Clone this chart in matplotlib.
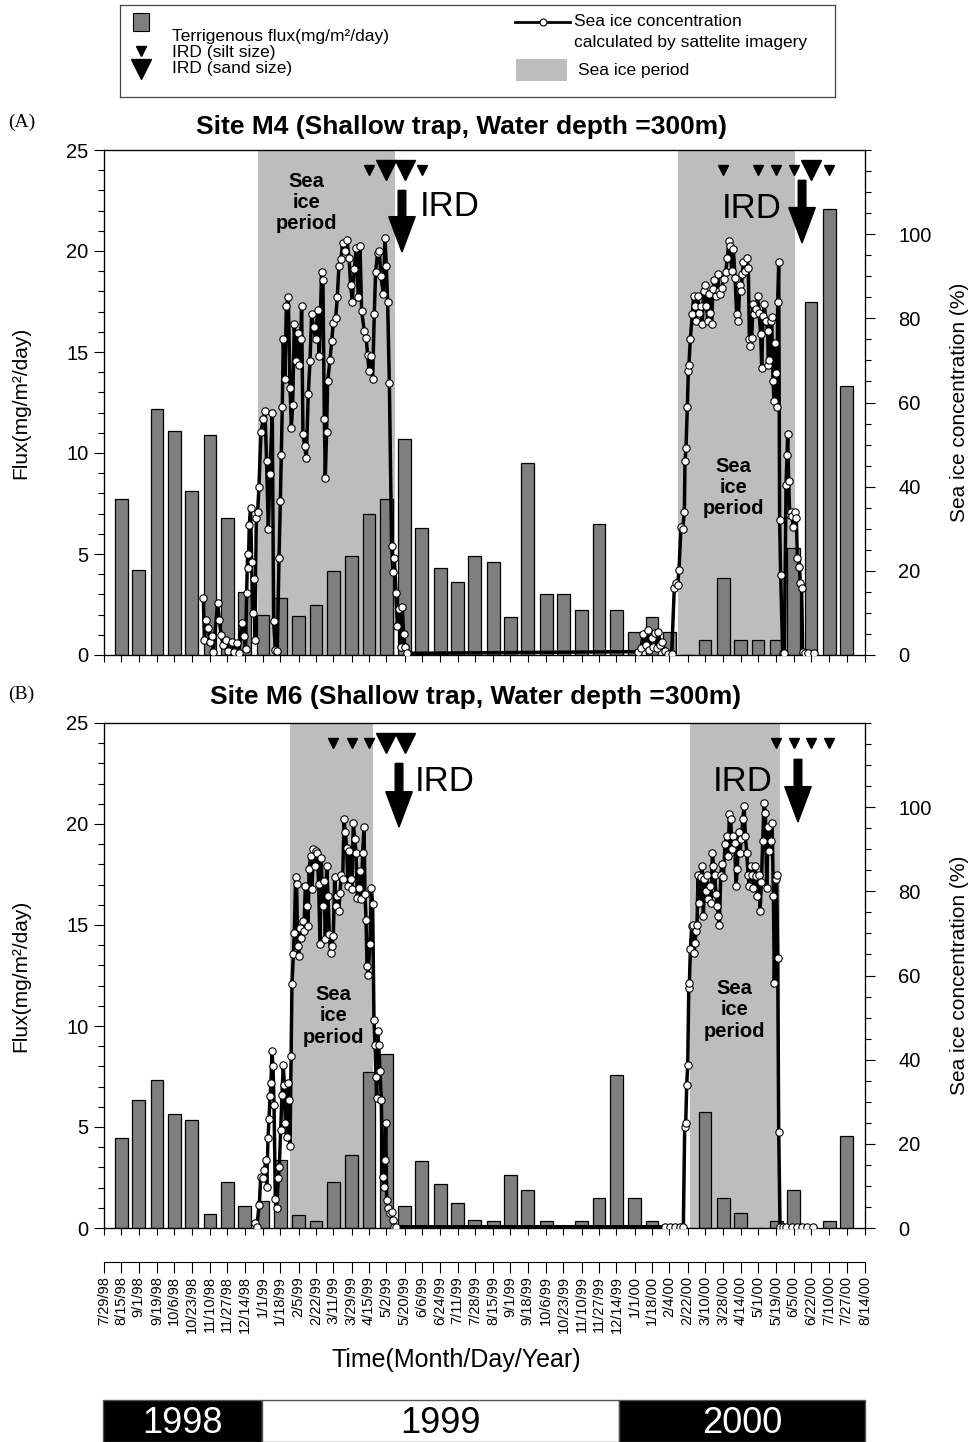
import numpy as np
import pandas as pd
import matplotlib
matplotlib.use('Agg')
import matplotlib.pyplot as plt
from matplotlib.ticker import MultipleLocator
from matplotlib.patches import Rectangle

plt.rcParams['font.family'] = ['Liberation Sans', 'DejaVu Sans']

# Fechas de cambio de copa de la trampa (eje de tiempo)
fechas = ['7/29/98', '8/15/98', '9/1/98', '9/19/98', '10/6/98', '10/23/98', '11/10/98',
          '11/27/98', '12/14/98', '1/1/99', '1/18/99', '2/5/99', '2/22/99', '3/11/99',
          '3/29/99', '4/15/99', '5/2/99', '5/20/99', '6/6/99', '6/24/99', '7/11/99',
          '7/28/99', '8/15/99', '9/1/99', '9/18/99', '10/6/99', '10/23/99', '11/10/99',
          '11/27/99', '12/14/99', '1/1/00', '1/18/00', '2/4/00', '2/22/00', '3/10/00',
          '3/28/00', '4/14/00', '5/1/00', '5/19/00', '6/5/00', '6/22/00', '7/10/00',
          '7/27/00', '8/14/00']

# Flujo terrigeno (mg/m2/dia), una barra por copa (fechas[1:-1])
flujo_m4 = [7.7, 4.2, 12.2, 11.1, 8.1, 10.9, 6.8, 3.1, 2.0, 2.8, 1.95, 2.5, 4.15, 4.9,
            7.0, 7.7, 10.7, 6.3, 4.3, 3.6, 4.9, 4.6, 1.9, 9.5, 3.0, 3.0, 2.25, 6.5,
            2.25, 1.15, 1.9, 1.15, 0.0, 0.75, 3.8, 0.75, 0.75, 0.75, 5.3, 17.5, 22.1, 13.3]
flujo_m6 = [4.45, 6.35, 7.35, 5.65, 5.35, 0.67, 2.3, 1.1, 1.35, 3.37, 0.64, 0.35, 2.3, 3.6,
            7.7, 8.6, 1.08, 3.3, 2.18, 1.26, 0.42, 0.34, 2.63, 1.88, 0.34, 0.0, 0.34, 1.48,
            7.58, 1.48, 0.34, 0.0, 0.0, 5.72, 1.5, 0.74, 0.0, 0.34, 1.88, 0.0, 0.34, 4.53]

# Concentracion de hielo marino (%) por satelite, dias desde 7/29/98
dias_hielo_m4 = [97.5, 98.5, 100.1, 102.4, 104.0, 105.7, 107.3, 111.5, 113.2, 114.8,
                 117.1, 119.4, 122.0, 125.3, 127.9, 130.2, 132.5, 135.1, 137.4, 139.0,
                 140.0, 141.0, 141.7, 142.6, 143.9, 144.9, 145.9, 146.9, 148.2, 149.5,
                 150.8, 152.1, 154.1, 156.4, 158.0, 159.6, 161.3, 162.9, 165.2, 166.5,
                 168.2, 170.1, 171.8, 173.1, 174.0, 175.0, 176.0, 177.6, 179.0, 180.9,
                 182.6, 183.9, 185.2, 186.8, 188.4, 190.1, 191.7, 193.0, 194.0, 195.3,
                 196.9, 198.6, 200.5, 202.2, 203.8, 205.8, 207.7, 209.7, 211.3, 213.6,
                 214.9, 216.3, 217.2, 218.5, 219.5, 221.8, 223.5, 225.1, 227.4, 229.0,
                 230.6, 232.6, 234.2, 236.5, 238.5, 240.5, 242.1, 243.7, 245.7, 247.7,
                 249.6, 251.3, 252.9, 255.5, 257.2, 258.8, 260.1, 262.1, 263.7, 265.3,
                 266.6, 268.6, 270.2, 271.9, 274.2, 275.8, 277.1, 278.4, 280.1, 282.3,
                 283.7, 285.0, 286.6, 287.9, 289.6, 291.2, 292.8, 294.1, 295.4, 297.4,
                 524.5, 527.1, 529.4, 531.7, 533.7, 535.3, 537.6, 539.2, 540.9, 542.5,
                 544.1, 546.1, 548.1, 550.7, 554.0, 557.2, 559.8, 561.5, 563.1, 564.4,
                 566.4, 568.0, 569.7, 570.3, 571.3, 572.6, 573.6, 574.2, 575.5, 577.5,
                 578.8, 580.1, 581.4, 582.7, 584.1, 585.7, 587.3, 588.6, 589.9, 591.3,
                 592.6, 593.9, 595.2, 596.5, 597.8, 599.1, 600.7, 602.4, 603.7, 605.0,
                 606.3, 608.3, 610.2, 611.9, 613.5, 614.5, 616.1, 617.8, 619.4, 621.0,
                 622.7, 624.0, 625.3, 626.6, 627.6, 629.2, 630.8, 632.5, 633.5, 634.4,
                 635.8, 637.1, 638.4, 640.0, 641.6, 642.9, 644.6, 645.6, 646.9, 648.2,
                 649.8, 651.5, 652.1, 653.1, 654.4, 655.4, 656.7, 657.7, 658.7, 659.6,
                 660.6, 661.3, 662.3, 663.2, 664.2, 666.2, 667.8, 669.5, 670.4, 671.1,
                 672.1, 673.1, 674.0, 675.3, 676.6, 678.3, 679.6, 680.6, 682.5, 683.5,
                 684.8, 685.8, 688.1, 691.4, 697.3]
hielo_m4 = [13.5, 3.6, 8.3, 6.3, 3.2, 4.4, 0.8, 12.3, 8.3, 4.8,
            2.4, 3.5, 1.0, 3.2, 0.8, 2.8, 0.5, 7.5, 4.5, 1.5,
            14.7, 24, 20.6, 31, 35, 22, 10, 18, 3.6, 32.5,
            34, 40, 53, 56, 58, 46, 30, 43, 57.5, 8,
            1.2, 1.0, 23, 36.5, 47.6, 59, 75, 65.5, 83, 85,
            63.5, 54, 59.5, 78.6, 69.8, 76.6, 69, 75, 83, 52.4,
            49.6, 46.8, 62, 69.8, 81, 78, 75, 82, 71, 91,
            89, 56, 42, 53, 65, 70, 74.6, 79, 80, 85,
            92.5, 94, 98, 96, 98.5, 94.4, 88, 84, 91.7, 96.8,
            85, 97.2, 81.7, 77, 75.4, 71.4, 67.5, 71, 65.5, 81,
            91, 95.6, 96, 90, 85.7, 99.2, 92.5, 84, 64.7, 26,
            19.8, 23, 14.7, 7, 11, 2, 11.5, 5, 2, 0.4,
            0.8, 1.6, 5, 2.4, 6, 1.2, 4, 2, 5.2, 1.6,
            5.5, 2.4, 3.2, 1, 0.2, 0.2, 15.9, 17, 16.7, 20.2,
            30.5, 30, 34, 46, 49.2, 59, 67.5, 69, 75, 81,
            85.3, 83, 79.4, 85.3, 81.3, 83, 78.6, 86.5, 88, 83,
            79.4, 85.7, 81.3, 78.6, 87, 89, 85.3, 90.5, 86.5, 85.7,
            87.3, 89.3, 90.9, 94.4, 98.4, 97.2, 91.3, 96.4, 89.7, 81,
            79.4, 88, 86.5, 90.5, 93.3, 91.3, 94.4, 92, 75, 73.4,
            75.4, 83.3, 81, 82.1, 85.3, 81.3, 76.2, 68.3, 80.5, 83.3,
            79.4, 77, 69, 70.2, 79.4, 80.2, 65, 60.3, 74.2, 67,
            59, 84, 93.3, 32, 19, 0.4, 0.4, 40.5, 47.6, 52.4,
            41.3, 33.3, 34, 33, 30.5, 34, 32.5, 23, 21, 17,
            15.9, 0.8, 0.4, 0.4, 0.4]

dias_hielo_m6 = [148.2, 149.9, 152.5, 153.8, 155.8, 157.4, 159.0, 159.7, 161.0, 162.0,
                 163.0, 163.9, 164.9, 165.9, 166.9, 168.2, 169.5, 171.1, 172.1, 173.4,
                 174.7, 176.0, 177.0, 178.0, 179.3, 180.3, 181.3, 182.6, 183.6, 184.5,
                 185.9, 186.8, 188.1, 189.1, 190.1, 191.1, 192.4, 193.7, 195.0, 196.3,
                 197.6, 198.9, 200.3, 201.2, 202.9, 204.2, 205.5, 206.8, 208.1, 209.4,
                 210.7, 212.0, 213.3, 214.6, 215.9, 217.3, 218.6, 219.9, 221.2, 222.5,
                 223.8, 225.1, 226.4, 227.7, 229.0, 230.4, 231.7, 233.0, 234.3, 235.6,
                 236.9, 238.2, 239.5, 240.8, 242.1, 243.4, 244.7, 246.1, 247.4, 248.7,
                 250.0, 251.3, 252.6, 253.9, 255.2, 256.2, 257.2, 258.2, 259.1, 261.1,
                 262.4, 263.7, 265.0, 266.0, 267.0, 267.7, 268.6, 269.6, 270.9, 272.2,
                 273.5, 274.8, 275.8, 276.5, 277.5, 279.1, 280.7, 282.4, 283.4, 284.7,
                 286.6,
                 550.7, 555.6, 560.5, 565.4, 568.7, 570.0, 571.0, 572.0, 573.0, 574.0,
                 574.6, 575.6, 576.9, 577.9, 579.2, 580.2, 581.2, 582.1, 583.1, 584.4,
                 585.7, 587.0, 588.4, 589.3, 590.6, 591.9, 593.3, 594.6, 595.9, 597.2,
                 598.2, 599.5, 600.8, 602.1, 603.1, 604.1, 605.4, 606.7, 608.0, 609.6,
                 611.3, 612.6, 613.9, 615.2, 616.5, 617.8, 619.1, 620.4, 621.7, 623.0,
                 624.3, 625.7, 627.0, 628.3, 629.6, 630.9, 632.2, 633.5, 634.8, 636.1,
                 637.4, 638.7, 640.0, 641.4, 642.7, 644.0, 645.3, 646.6, 647.9, 649.2,
                 650.5, 651.8, 653.1, 654.4, 655.8, 657.1, 658.0, 659.4, 660.3, 661.3,
                 662.3, 663.6, 666.2, 669.5, 675.1, 680.0, 684.9, 689.8, 696.3]
hielo_m6 = [1.1, 0.3, 5.5, 12.2, 11.8, 13.8, 16.2, 9.8, 21.3, 26,
            31.3, 34.4, 42, 38.4, 29.3, 7, 4.7, 11.8, 14.6, 23.3,
            31.7, 38.8, 34, 24.9, 21.7, 34.4, 30.5, 19.4, 40.8, 57.9,
            65, 70.2, 83.3, 81.7, 67, 64.6, 71.3, 69, 73, 70.6,
            81.3, 76.5, 71.7, 85.2, 88.4, 80.5, 90, 86, 89.6, 89.2,
            81.7, 67.4, 88, 76.5, 82.5, 68.6, 86, 79, 69.8, 65.4,
            67, 69.4, 83.3, 76.5, 79, 75.3, 79.7, 84, 82.9, 97.1,
            94, 90.4, 81.3, 89.6, 82.9, 80.5, 96.3, 92.4, 89.2, 78.5,
            80.9, 84.8, 78.1, 89.2, 95.2, 79.3, 73.3, 62.2, 60.2, 67.4,
            80.9, 76.9, 49.5, 43.6, 36, 30.9, 46.7, 43.6, 37.2, 30.5,
            12.2, 9.8, 16.2, 24.9, 6.7, 4.7, 3.5, 3.9, 1.9, 0.3,
            0.3,
            0.3, 0.3, 0.3, 0.3, 0.3, 24.1, 24.9, 34, 38.8, 57,
            58.2, 66.2, 71.7, 72.1, 65.4, 67.8, 70.6, 72.1, 84, 77.3,
            83.3, 86, 74.1, 82.9, 80, 84, 78.1, 81.3, 77.3, 89.2,
            86, 84, 79.3, 76.5, 74.1, 72.1, 84, 86.4, 83.3, 91.2,
            93.2, 88.4, 98.3, 97.1, 90, 93.2, 91.6, 81.3, 85.2, 94,
            89.2, 92.4, 97.1, 100.3, 93.2, 89.2, 84, 81.3, 86, 84,
            80.9, 86, 83.7, 78.9, 84, 75.3, 82.1, 92, 101, 98.7,
            80.9, 95.2, 89.6, 92, 96.3, 78.9, 58.2, 82.9, 84, 64.2,
            22.9, 0.3, 0.3, 0.3, 0.3, 0.3, 0.3, 0.3, 0.3]

# Periodos con hielo marino
periodo_hielo_m4 = [('1998-12-27', '1999-05-11'), ('2000-02-12', '2000-06-06')]
periodo_hielo_m6 = [('1999-01-28', '1999-04-19'), ('2000-02-24', '2000-05-23')]

# Copas con IRD (limo / arena)
ird_limo_m4 = ['4/15/99', '6/6/99', '3/28/00', '5/1/00', '5/19/00', '6/5/00', '7/10/00']
ird_arena_m4 = ['5/2/99', '5/20/99', '6/22/00']
ird_limo_m6 = ['3/11/99', '3/29/99', '4/15/99', '5/19/00', '6/5/00', '6/22/00', '7/10/00']
ird_arena_m6 = ['5/2/99', '5/20/99']

# Barra de anios
anios = ['1998', '1999', '2000']
limites_anios = ['1998-07-29', '1999-01-01', '1999-12-17', '2000-08-14']

t = pd.to_datetime(fechas, format='%m/%d/%y')
t0 = t[0]
dias = np.asarray((t - t0).days, dtype=float)


def dias_desde(f):
    if '/' in f:
        return float((pd.to_datetime(f, format='%m/%d/%y') - t0).days)
    return float((pd.to_datetime(f) - t0).days)


W, H = 974, 1442


def caja(x0, y0, x1, y1):
    return [x0 / W, 1 - y1 / H, (x1 - x0) / W, (y1 - y0) / H]


GRIS_HIELO = '#bdbdbd'
GRIS_BARRA = '#7f7f7f'


def flecha(ax, x, y0, y1):
    ax.arrow(x, y0, 0, y1 - y0, width=7.5, head_width=26, head_length=1.75,
             length_includes_head=True, fc='k', ec='k', zorder=6)


def graficar_panel(ax, flujo, dias_h, hielo, periodos, limo, arena):
    for ini, fin in periodos:
        ax.axvspan(dias_desde(ini), dias_desde(fin), color=GRIS_HIELO, lw=0, zorder=0)
    ax.bar(dias[1:-1], flujo, width=12.5, color=GRIS_BARRA, edgecolor='k', lw=0.9, zorder=2)
    ax.plot([dias_desde(f) for f in limo], [24] * len(limo), 'kv', ms=7, zorder=5)
    ax.plot([dias_desde(f) for f in arena], [24] * len(arena), 'kv', ms=15, zorder=5)

    ax.set_xlim(0, dias[-1])
    ax.set_ylim(0, 25)
    ax.set_xticks(dias)
    ax.tick_params(axis='x', labelbottom=False, direction='out', length=5, width=0.8)
    ax.yaxis.set_major_locator(MultipleLocator(5))
    ax.yaxis.set_minor_locator(MultipleLocator(1))
    ax.tick_params(axis='y', which='major', length=7, width=0.8, labelsize=14.5, pad=4)
    ax.tick_params(axis='y', which='minor', length=4, width=0.8)
    ax.set_ylabel('Flux(mg/m²/day)', fontsize=15)
    ax.yaxis.set_label_coords(-0.097, 0.5)
    for s in ax.spines.values():
        s.set_linewidth(0.9)

    ax2 = ax.twinx()
    ax2.plot(dias_h, hielo, '-o', color='k', lw=2.5, ms=5.3, mfc='white', mec='k',
             mew=0.8, zorder=4)
    ax2.set_ylim(0, 120)
    ax2.set_yticks([0, 20, 40, 60, 80, 100])
    ax2.yaxis.set_minor_locator(MultipleLocator(5))
    ax2.tick_params(axis='y', which='major', length=7, width=0.8, labelsize=14.5, pad=17)
    ax2.tick_params(axis='y', which='minor', length=4, width=0.8)
    ax2.set_ylabel('Sea ice concentration (%)', fontsize=15)
    ax2.yaxis.set_label_coords(1.112, 0.5)
    return ax2


def texto_hielo(ax, x, y):
    ax.text(x, y, 'Sea\nice\nperiod', ha='center', va='center', fontsize=14.5,
            fontweight='bold', linespacing=1.15, zorder=3)


fig = plt.figure(figsize=(W / 100, H / 100), dpi=100)

# Panel (A): M4
ax_a = fig.add_axes(caja(104, 150, 865, 655))
graficar_panel(ax_a, flujo_m4, dias_hielo_m4, hielo_m4, periodo_hielo_m4,
               ird_limo_m4, ird_arena_m4)
flecha(ax_a, 292.5, 23.0, 19.95)
flecha(ax_a, 685.2, 23.5, 20.4)
ax_a.text(310, 22.2, 'IRD', fontsize=25, ha='left', va='center')
ax_a.text(665.5, 22.1, 'IRD', fontsize=25, ha='right', va='center')
texto_hielo(ax_a, 199, 22.4)
texto_hielo(ax_a, 618, 8.3)

# Panel (B): M6
ax_b = fig.add_axes(caja(104, 723, 865, 1228))
graficar_panel(ax_b, flujo_m6, dias_hielo_m6, hielo_m6, periodo_hielo_m6,
               ird_limo_m6, ird_arena_m6)
flecha(ax_b, 289.6, 23.0, 19.85)
flecha(ax_b, 681.2, 23.2, 20.1)
ax_b.text(305, 22.1, 'IRD', fontsize=25, ha='left', va='center')
ax_b.text(656.7, 22.1, 'IRD', fontsize=25, ha='right', va='center')
texto_hielo(ax_b, 225, 10.5)
texto_hielo(ax_b, 619, 10.8)

fig.text(462 / W, 1 - 127 / H, 'Site M4 (Shallow trap, Water depth =300m)',
         ha='center', va='center', fontsize=19, fontweight='bold')
fig.text(476 / W, 1 - 697 / H, 'Site M6 (Shallow trap, Water depth =300m)',
         ha='center', va='center', fontsize=19, fontweight='bold')
fig.text(8 / W, 1 - 122 / H, '(A)', family='Liberation Serif', fontsize=14, va='center')
fig.text(8 / W, 1 - 694 / H, '(B)', family='Liberation Serif', fontsize=14, va='center')

# Eje de fechas
ax_t = fig.add_axes(caja(104, 1261.9, 865, 1262))
ax_t.set_xlim(0, dias[-1])
ax_t.set_xticks(dias)
ax_t.set_xticklabels(fechas, rotation=90, fontsize=10.5)
ax_t.set_yticks([])
for s in ['left', 'right', 'top']:
    ax_t.spines[s].set_visible(False)
ax_t.spines['bottom'].set_linewidth(0.8)
ax_t.patch.set_visible(False)
ax_t.tick_params(axis='x', length=8, width=0.8, pad=2)
fig.text(456 / W, 1 - 1360 / H, 'Time(Month/Day/Year)', ha='center', va='center', fontsize=18)

# Barra de anios
ax_y = fig.add_axes(caja(103, 1400, 865, 1442))
ax_y.set_xlim(0, dias[-1])
ax_y.set_ylim(0, 1)
ax_y.axis('off')
for i, anio in enumerate(anios):
    a = dias_desde(limites_anios[i])
    b = dias_desde(limites_anios[i + 1])
    fondo = 'white' if i == 1 else 'black'
    ax_y.add_patch(Rectangle((a, 0), b - a, 1, fc=fondo, ec='#555555', lw=1, clip_on=False))
    ax_y.text((a + b) / 2, 0.45, anio, ha='center', va='center', fontsize=26,
              color='black' if i == 1 else 'white')

# Leyenda
ax_l = fig.add_axes(caja(120, 5, 835, 97))
ax_l.set_xlim(0, 715)
ax_l.set_ylim(92, 0)
ax_l.set_xticks([])
ax_l.set_yticks([])
for s in ax_l.spines.values():
    s.set_linewidth(0.9)
    s.set_color('#444444')
ax_l.add_patch(Rectangle((13, 8), 16, 18, fc=GRIS_BARRA, ec='k', lw=0.8))
ax_l.text(52, 32, 'Terrigenous flux(mg/m²/day)', va='center', fontsize=12.5)
ax_l.plot(21, 46, 'kv', ms=7, clip_on=False)
ax_l.text(52, 47, 'IRD (silt size)', va='center', fontsize=12.5)
ax_l.plot(21, 64, 'kv', ms=15, clip_on=False)
ax_l.text(52, 64, 'IRD (sand size)', va='center', fontsize=12.5)
ax_l.plot([395, 450], [17, 17], 'k-', lw=2)
ax_l.plot(423, 17, 'o', mfc='white', mec='k', ms=5, mew=0.8)
ax_l.text(454, 17, 'Sea ice concentration', va='center', fontsize=12.5)
ax_l.text(454, 38, 'calculated by sattelite imagery', va='center', fontsize=12.5)
ax_l.add_patch(Rectangle((396, 54), 51, 22, fc=GRIS_HIELO, ec='none'))
ax_l.text(458, 66, 'Sea ice period', va='center', fontsize=12.5)

fig.savefig('out.png', dpi=100)
